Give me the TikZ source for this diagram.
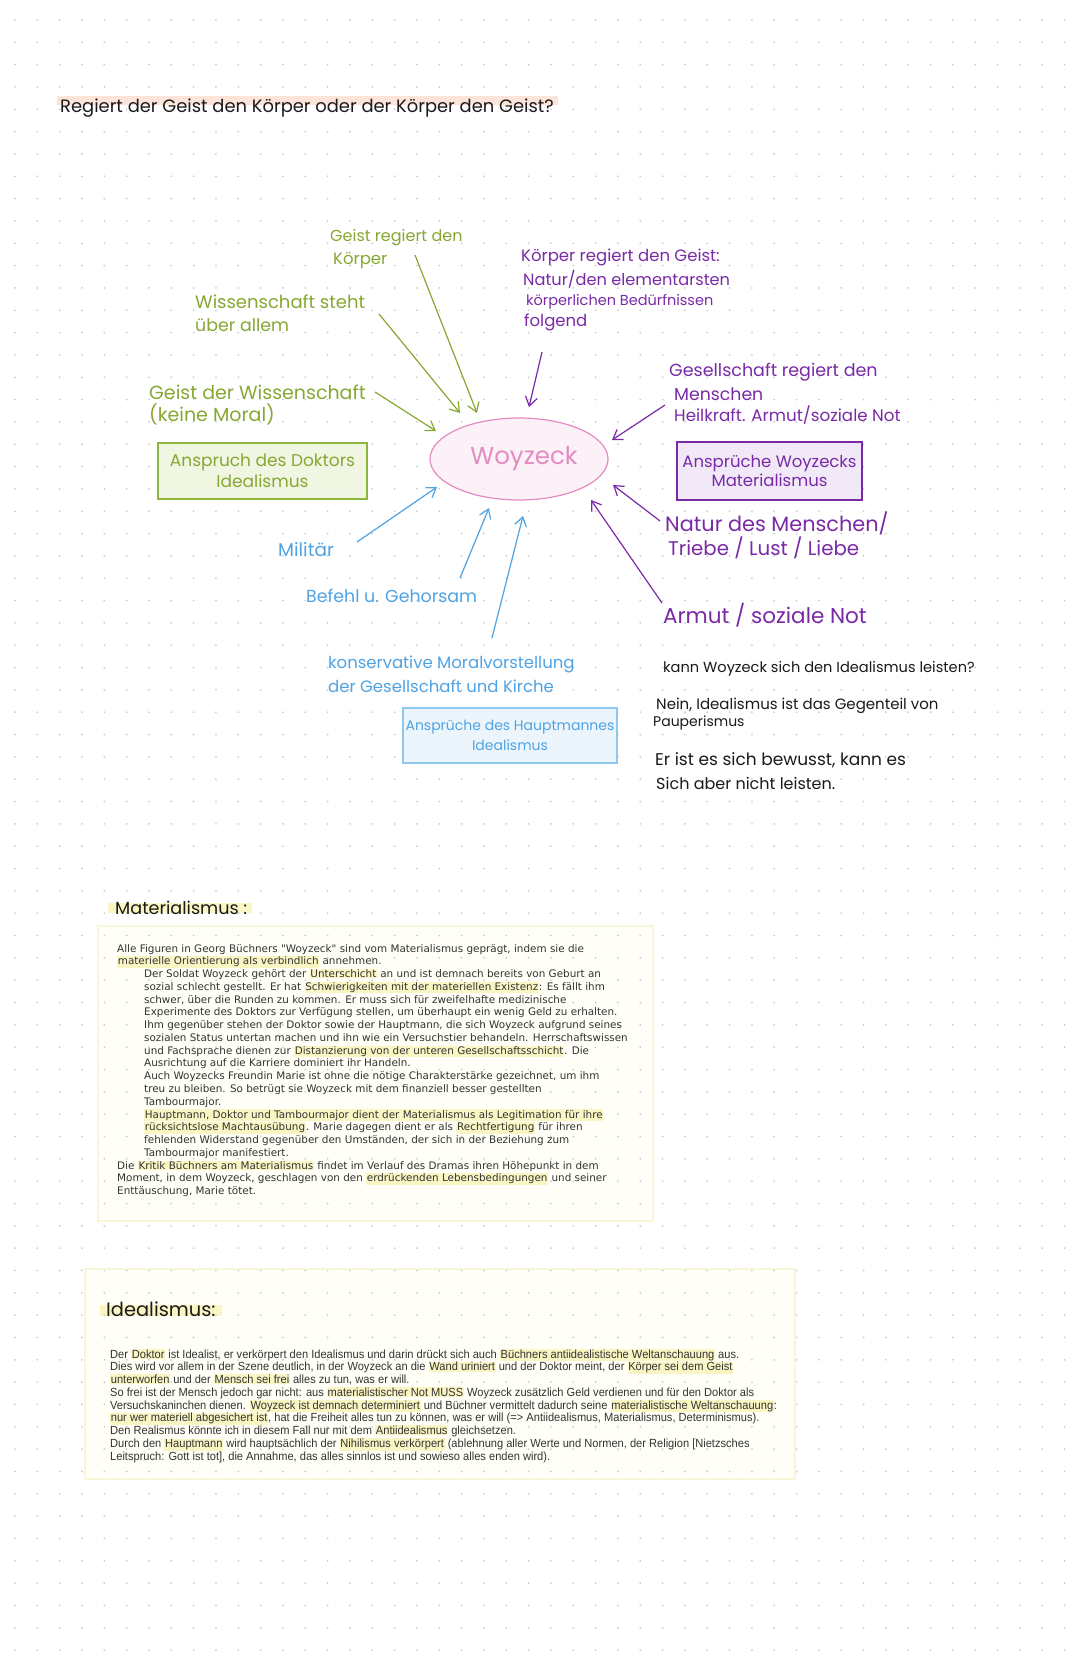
\documentclass[tikz,border=0pt]{standalone}
\usepackage{fontspec}
\usetikzlibrary{shapes.geometric,arrows.meta}
\newfontfamily\hand{Poppins}
\newfontfamily\verd{DejaVu Sans}
\newfontfamily\narr[FakeStretch=0.94]{Liberation Sans}
\definecolor{gr}{HTML}{86A832}
\definecolor{grbox}{HTML}{8DB53C}
\definecolor{grfill}{HTML}{EEF4DD}
\definecolor{pu}{HTML}{7A2AA6}
\definecolor{pufill}{HTML}{EEE4F6}
\definecolor{pk}{HTML}{E38BC2}
\definecolor{pkfill}{HTML}{FCEEF6}
\definecolor{bl}{HTML}{4FA3E3}
\definecolor{blbox}{HTML}{8EC7F0}
\definecolor{blfill}{HTML}{E8F3FC}
\definecolor{dotc}{HTML}{CCCCCC}
\definecolor{peach}{HTML}{FCE4D8}
\definecolor{hly}{HTML}{FAF6C4}
\definecolor{ylbox}{HTML}{F8F6D8}
\definecolor{ylfill}{HTML}{FFFFF7}
\definecolor{ink}{HTML}{1A1A1A}
\definecolor{txt}{HTML}{333333}
\newcommand\hlt[1]{{\setlength{\fboxsep}{0.7pt}\colorbox{hly}{#1}}}
\tikzset{
  hnd/.style={font=\hand\fontsize{#1}{#1}\selectfont, inner sep=0pt, anchor=west},
  hnd/.default=14,
  garrow/.style={gr, line width=1.2pt, -{Straight Barb[length=9pt,width=12pt]}},
  parrow/.style={pu, line width=1.2pt, -{Straight Barb[length=9pt,width=12pt]}},
  barrow/.style={bl, line width=1.2pt, -{Straight Barb[length=9pt,width=12pt]}},
  matline/.style={font=\verd\fontsize{10.4}{11}\selectfont, text=txt, inner sep=0pt, anchor=base west},
  idline/.style={font=\narr\fontsize{11.8}{12}\selectfont, text=txt, inner sep=0pt, anchor=base west},
  cbox/.style={draw=#1, line width=1.2pt, inner sep=0pt, align=center, fill opacity=0.8, text opacity=1},
}
\begin{document}
\begin{tikzpicture}[x=1pt,y=-1pt]
\useasboundingbox (0,0) rectangle (1080,1669);
\fill[white] (0,0) rectangle (1080,1669);
% big text boxes (fills)
\path[fill=ylfill] (98,926) rectangle (653,1221);
\path[fill=ylfill] (85,1269) rectangle (795,1479);
% highlights
\fill[peach] (57,96) rectangle (558,105);
\fill[hly] (108,903) rectangle (252,913);
\fill[hly] (100,1305) rectangle (222,1316);
% dot grid
\foreach \i in {0,...,47} {\foreach \j in {0,...,73} {\fill[dotc] (15+22.33*\i,20+22.33*\j) circle (1pt);}}
\draw[ylbox, line width=1.2pt] (98,926) rectangle (653,1221);
\draw[ylbox, line width=1.2pt] (85,1269) rectangle (795,1479);

% title
\node[hnd=17.9, text=ink] (title) at (60,108) {Regiert der Geist den Körper oder der Körper den Geist?};

% central ellipse
\node[ellipse, draw=pk, line width=1.2pt, fill=pkfill, fill opacity=0.8, text opacity=1, minimum width=178pt, minimum height=82pt, inner sep=0pt, text=pk, font=\hand\fontsize{24.5}{24.5}\selectfont] (woy) at (519,459) {\hspace*{10pt}Woyzeck};

% green
\node[hnd=16, text=gr] (g1a) at (330,238) {Geist regiert den};
\node[hnd=16.5, text=gr] (g1b) at (333,261) {Körper};
\node[hnd=18, text=gr] (g2a) at (195,302) {Wissenschaft steht};
\node[hnd=17.4, text=gr] (g2b) at (195,325) {über allem};
\node[hnd=19, text=gr] (g3a) at (149,392) {Geist der Wissenschaft};
\node[hnd=19, text=gr] (g3b) at (149,414) {(keine Moral)};
\node[cbox=grbox, fill=grfill, minimum width=209pt, minimum height=56pt, text=gr, font=\hand\fontsize{17}{21}\selectfont] (doc) at (262.5,471) {Anspruch des Doktors\\Idealismus};
\coordinate (g1s) at (415,255); \coordinate (g1e) at (477,413);
\coordinate (g2s) at (379,314); \coordinate (g2e) at (460,413);
\coordinate (g3s) at (375,392); \coordinate (g3e) at (436,431);
\draw[garrow] (g1s) -- (g1e);
\draw[garrow] (g2s) -- (g2e);
\draw[garrow] (g3s) -- (g3e);

% purple
\node[hnd=16.5, text=pu] (p1a) at (521,257) {Körper regiert den Geist:};
\node[hnd=16.2, text=pu] (p1b) at (523,279) {Natur/den elementarsten};
\node[hnd=14.5, text=pu] (p1c) at (526,302) {körperlichen Bedürfnissen};
\node[hnd=16.5, text=pu] (p1d) at (524,322) {folgend};
\node[hnd=17.5, text=pu] (p2a) at (669,372) {Gesellschaft regiert den};
\node[hnd=17.3, text=pu] (p2b) at (674,394) {Menschen};
\node[hnd=16.7, text=pu] (p2c) at (674,415) {Heilkraft. Armut/soziale Not};
\node[cbox=pu, fill=pufill, minimum width=185pt, minimum height=58pt, text=pu, font=\hand\fontsize{16.5}{19}\selectfont] (woym) at (769.5,471) {Ansprüche Woyzecks\\Materialismus};
\node[hnd=20.8, text=pu] (p3a) at (665,523) {Natur des Menschen/};
\node[hnd=19.8, text=pu] (p3b) at (668,548) {Triebe / Lust / Liebe};
\node[hnd=21.5, text=pu] (p4) at (663,615) {Armut / soziale Not};
\coordinate (p1s) at (542,352); \coordinate (p1e) at (529,407);
\coordinate (p2s) at (665,405); \coordinate (p2e) at (612,440);
\coordinate (p3s) at (660,521); \coordinate (p3e) at (613,485);
\coordinate (p4s) at (662,603); \coordinate (p4e) at (591,500);
\draw[parrow] (p1s) -- (p1e);
\draw[parrow] (p2s) -- (p2e);
\draw[parrow] (p3s) -- (p3e);
\draw[parrow] (p4s) -- (p4e);

% black notes
\node[hnd=14.6, text=ink] (k1) at (663,669) {kann Woyzeck sich den Idealismus leisten?};
\node[hnd=15, text=ink] (k2) at (656,706) {Nein, Idealismus ist das Gegenteil von};
\node[hnd=14, text=ink] (k3) at (653,723) {Pauperismus};
\node[hnd=17, text=ink] (k4) at (655,760) {Er ist es sich bewusst, kann es};
\node[hnd=16, text=ink] (k5) at (656,783) {Sich aber nicht leisten.};

% blue
\node[hnd=18.5, text=bl] (b1) at (278,550) {Militär};
\node[hnd=17.4, text=bl] (b2) at (306,596) {Befehl u. Gehorsam};
\node[hnd=16.5, text=bl] (b3a) at (328,664) {konservative Moralvorstellung};
\node[hnd=16.5, text=bl] (b3b) at (328,686) {der Gesellschaft und Kirche};
\node[cbox=blbox, fill=blfill, minimum width=214pt, minimum height=55pt, text=bl, font=\hand\fontsize{14}{20}\selectfont] (hpt) at (510,735.5) {Ansprüche des Hauptmannes\\Idealismus};
\coordinate (b1s) at (357,542); \coordinate (b1e) at (437,487);
\coordinate (b2s) at (460,578); \coordinate (b2e) at (489,508);
\coordinate (b3s) at (492,638); \coordinate (b3e) at (523,516);
\draw[barrow] (b1s) -- (b1e);
\draw[barrow] (b2s) -- (b2e);
\draw[barrow] (b3s) -- (b3e);

% Materialismus
\node[hnd=17.6, text=ink] (math) at (115,908) {Materialismus :};
\node[matline] (m1) at (117,952) {Alle Figuren in Georg Büchners "Woyzeck" sind vom Materialismus geprägt, indem sie die};
\node[matline] (m2) at (117,964.8) {\hlt{materielle Orientierung als verbindlich} annehmen.};
\node[matline] (m3) at (144,977.5) {Der Soldat Woyzeck gehört der \hlt{Unterschicht} an und ist demnach bereits von Geburt an};
\node[matline] (m4) at (144,990.3) {sozial schlecht gestellt. Er hat \hlt{Schwierigkeiten mit der materiellen Existenz}: Es fällt ihm};
\node[matline] (m5) at (144,1003.1) {schwer, über die Runden zu kommen. Er muss sich für zweifelhafte medizinische};
\node[matline] (m6) at (144,1015.9) {Experimente des Doktors zur Verfügung stellen, um überhaupt ein wenig Geld zu erhalten.};
\node[matline] (m7) at (144,1028.6) {Ihm gegenüber stehen der Doktor sowie der Hauptmann, die sich Woyzeck aufgrund seines};
\node[matline] (m8) at (144,1041.4) {sozialen Status untertan machen und ihn wie ein Versuchstier behandeln. Herrschaftswissen};
\node[matline] (m9) at (144,1054.2) {und Fachsprache dienen zur \hlt{Distanzierung von der unteren Gesellschaftsschicht}. Die};
\node[matline] (m10) at (144,1066.9) {Ausrichtung auf die Karriere dominiert ihr Handeln.};
\node[matline] (m11) at (144,1079.7) {Auch Woyzecks Freundin Marie ist ohne die nötige Charakterstärke gezeichnet, um ihm};
\node[matline] (m12) at (144,1092.5) {treu zu bleiben. So betrügt sie Woyzeck mit dem finanziell besser gestellten};
\node[matline] (m13) at (144,1105.2) {Tambourmajor.};
\node[matline] (m14) at (144,1118) {\hlt{Hauptmann, Doktor und Tambourmajor dient der Materialismus als Legitimation für ihre}};
\node[matline] (m15) at (144,1130.8) {\hlt{rücksichtslose Machtausübung}. Marie dagegen dient er als \hlt{Rechtfertigung} für ihren};
\node[matline] (m16) at (144,1143.6) {fehlenden Widerstand gegenüber den Umständen, der sich in der Beziehung zum};
\node[matline] (m17) at (144,1156.3) {Tambourmajor manifestiert.};
\node[matline] (m18) at (117,1169.1) {Die \hlt{Kritik Büchners am Materialismus} findet im Verlauf des Dramas ihren Höhepunkt in dem};
\node[matline] (m19) at (117,1181.9) {Moment, in dem Woyzeck, geschlagen von den \hlt{erdrückenden Lebensbedingungen} und seiner};
\node[matline] (m20) at (117,1194.6) {Enttäuschung, Marie tötet.};

% Idealismus
\node[hnd=19.4, text=ink] (idh) at (106,1309) {Idealismus:};
\node[idline] (i1) at (110,1358) {Der \hlt{Doktor} ist Idealist, er verkörpert den Idealismus und darin drückt sich auch \hlt{Büchners antiidealistische Weltanschauung} aus.};
\node[idline] (i2) at (110,1370.8) {Dies wird vor allem in der Szene deutlich, in der Woyzeck an die \hlt{Wand uriniert} und der Doktor meint, der \hlt{Körper sei dem Geist}};
\node[idline] (i3) at (110,1383.5) {\hlt{unterworfen} und der \hlt{Mensch sei frei} alles zu tun, was er will.};
\node[idline] (i4) at (110,1396.3) {So frei ist der Mensch jedoch gar nicht: aus \hlt{materialistischer Not MUSS} Woyzeck zusätzlich Geld verdienen und für den Doktor als};
\node[idline] (i5) at (110,1409.1) {Versuchskaninchen dienen. \hlt{Woyzeck ist demnach determiniert} und Büchner vermittelt dadurch seine \hlt{materialistische Weltanschauung}:};
\node[idline] (i6) at (110,1421.8) {\hlt{nur wer materiell abgesichert ist}, hat die Freiheit alles tun zu können, was er will (=> Antiidealismus, Materialismus, Determinismus).};
\node[idline] (i7) at (110,1434.6) {Den Realismus könnte ich in diesem Fall nur mit dem \hlt{Antiidealismus} gleichsetzen.};
\node[idline] (i8) at (110,1447.4) {Durch den \hlt{Hauptmann} wird hauptsächlich der \hlt{Nihilismus verkörpert} (ablehnung aller Werte und Normen, der Religion [Nietzsches};
\node[idline] (i9) at (110,1460.1) {Leitspruch: Gott ist tot], die Annahme, das alles sinnlos ist und sowieso alles enden wird).};
\end{tikzpicture}
\end{document}
